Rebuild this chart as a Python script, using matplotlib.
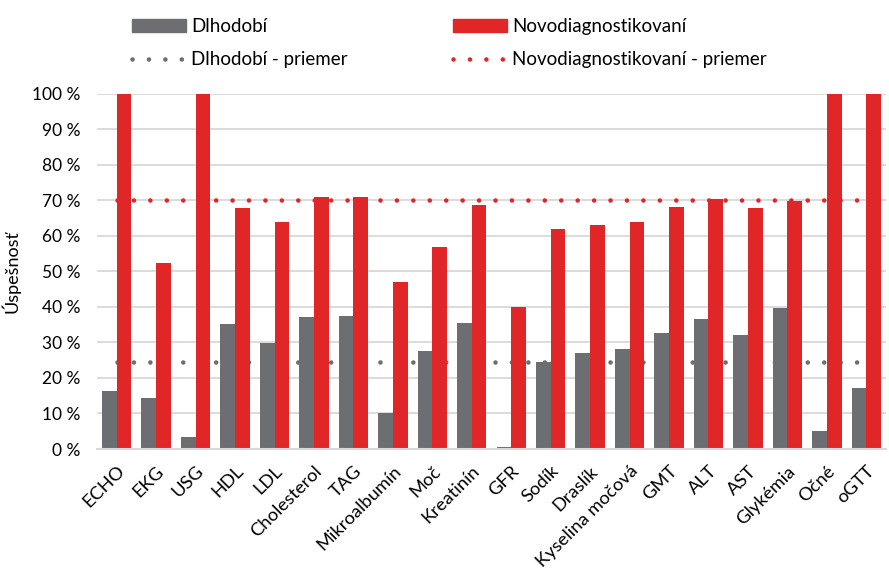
import matplotlib
matplotlib.use("Agg")
import matplotlib.pyplot as plt
import numpy as np
from matplotlib.lines import Line2D
from matplotlib.patches import Patch
from matplotlib.ticker import FuncFormatter

plt.rcParams['font.family'] = ['Lato', 'DejaVu Sans']

categories = ["ECHO", "EKG", "USG", "HDL", "LDL", "Cholesterol", "TAG", "Mikroalbumín",
              "Moč", "Kreatinín", "GFR", "Sodík", "Draslík", "Kyselina močová", "GMT",
              "ALT", "AST", "Glykémia", "Očné", "oGTT"]
dlhodobi = [16.4, 14.3, 3.5, 35.2, 29.8, 37.2, 37.4, 10.0, 27.6, 35.6, 0.7, 24.6,
            26.9, 28.2, 32.6, 36.5, 32.0, 39.7, 5.2, 17.2]
novodiag = [100, 52.4, 100, 67.9, 64.0, 70.8, 70.9, 47.0, 56.8, 68.8, 40.0, 61.9,
            63.1, 63.9, 68.1, 70.5, 67.7, 69.7, 100, 100]
dlhodobi_priemer = 24.5
novodiag_priemer = 70.2
yticks = [0, 10, 20, 30, 40, 50, 60, 70, 80, 90, 100]

GRAY = "#6D6E71"
RED = "#E02626"

fig = plt.figure(figsize=(8.89, 5.74), dpi=100)
ax = fig.add_axes([97/889, 1-449/574, 789/889, (449-93.7)/574])

n = len(categories)
x = np.arange(n)
w = 0.372
ax.bar(x - w/2, dlhodobi, width=w, color=GRAY, zorder=2)
ax.bar(x + w/2, novodiag, width=w, color=RED, zorder=2)

lw = 3.3
gap = 11.8 / lw
ax.plot(x, [dlhodobi_priemer]*n, color=GRAY, lw=lw, linestyle=(0, (0.01, gap)),
        dash_capstyle='round', zorder=1.5)
ax.plot(x, [novodiag_priemer]*n, color=RED, lw=lw, linestyle=(0, (0.01, gap)),
        dash_capstyle='round', zorder=1.5)

ax.set_xlim(-0.5, n - 0.5)
ax.set_ylim(0, 100)
ax.set_yticks(yticks)
ax.yaxis.set_major_formatter(FuncFormatter(lambda v, p: f"{int(v)} %"))
ax.set_axisbelow(True)
ax.grid(axis='y', color="#D9D9D9", lw=1.3)
for s in ['top', 'right', 'left']:
    ax.spines[s].set_visible(False)
ax.spines['bottom'].set_color("#D9D9D9")
ax.spines['bottom'].set_linewidth(1.5)
ax.tick_params(axis='y', length=0, labelsize=12.5, pad=12, colors='black')
ax.tick_params(axis='x', length=0, labelsize=13.2, pad=10)
ax.set_xticks(x)
ax.set_xticklabels(categories, rotation=45, ha='right', rotation_mode='anchor')
ax.set_ylabel("Úspešnosť", fontsize=13, labelpad=8)

handles = [Patch(color=GRAY),
           Line2D([], [], color=GRAY, lw=lw, linestyle=(0, (0.01, gap)), dash_capstyle='round'),
           Patch(color=RED),
           Line2D([], [], color=RED, lw=lw, linestyle=(0, (0.01, gap)), dash_capstyle='round')]
labels = ["Dlhodobí", "Dlhodobí - priemer", "Novodiagnostikovaní", "Novodiagnostikovaní - priemer"]
fig.legend(handles, labels, ncol=2, loc='upper left', bbox_to_anchor=(117/889, 1 - 3/574),
           frameon=False, fontsize=13.5, handlelength=2.9, handleheight=0.65,
           handletextpad=0.27, columnspacing=5.6, labelspacing=0.85, borderpad=0.3)

fig.savefig("out.png", dpi=100)
